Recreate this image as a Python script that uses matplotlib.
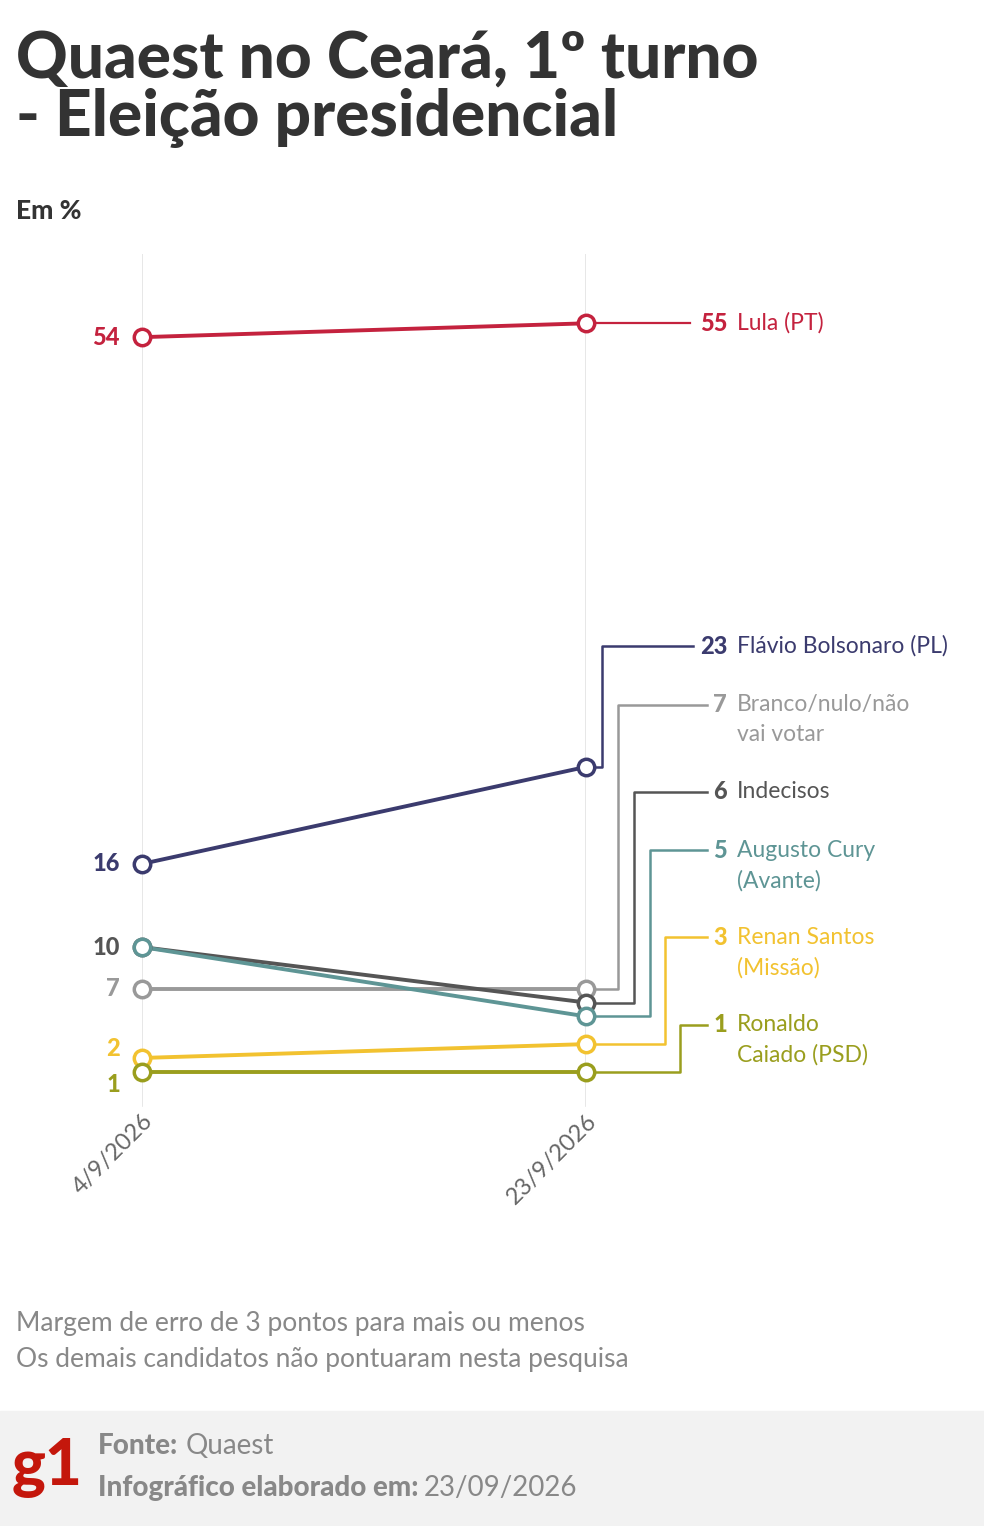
import matplotlib.pyplot as plt
import matplotlib.patches as patches

plt.rcParams['font.family'] = ['Lato', 'DejaVu Sans']

dates = ['4/9/2026', '23/9/2026']
names = ['Lula (PT)', 'Flávio Bolsonaro (PL)', 'Branco/nulo/não\nvai votar', 'Indecisos',
         'Augusto Cury\n(Avante)', 'Renan Santos\n(Missão)', 'Ronaldo\nCaiado (PSD)']
first = [54, 16, 7, 10, 10, 2, 1]
last = [55, 23, 7, 6, 5, 3, 1]
colors = ['#c4223e', '#3b3b6e', '#999999', '#555555', '#5e9595', '#f2c230', '#9a9e1e']
# label placement (value units) and elbow x (axis units)
label_y = [55, 31.7, 27.5, 21.2, 17.0, 10.7, 4.4]
elbow_x = [None, 1.036, 1.072, 1.108, 1.144, 1.178, 1.212]
end_x = [1.234, 1.24, 1.272, 1.272, 1.272, 1.272, 1.272]
left_show = [True, True, True, True, False, True, True]
left_y = [54, 16, 7, 10, None, 2.7, 0.1]

W, H = 984, 1526
fig = plt.figure(figsize=(W / 100, H / 100), dpi=100)
ax = fig.add_axes([142 / W, 1 - 1155 / H, 444 / W, (1155 - 254) / H])
ax.set_xlim(0, 1)
ax.set_ylim(-5, 60)
ax.axis('off')
for x in [0, 1]:
    ax.plot([x, x], [-1.5, 60], color='#e3e3e3', lw=1.2, zorder=0)

label_x = 1.318
for i in range(len(names)):
    c = colors[i]
    ax.plot([0, 1], [first[i], last[i]], color=c, lw=2.8, zorder=3)
    if elbow_x[i] is None:
        ax.plot([1, end_x[i]], [last[i], last[i]], color=c, lw=1.6, zorder=2, clip_on=False)
    else:
        ax.plot([1, elbow_x[i], elbow_x[i], end_x[i]], [last[i], last[i], label_y[i], label_y[i]],
                color=c, lw=1.8, zorder=2, clip_on=False)
    ax.scatter([0, 1], [first[i], last[i]], s=140, facecolor='white', edgecolor=c,
               linewidth=2.5, zorder=4, clip_on=False)
    lines = names[i].split('\n')
    ax.text(label_x, label_y[i], f'{last[i]}', color=c, fontsize=17, fontweight='black',
            ha='right', va='center')
    ax.text(label_x + 0.022, label_y[i], lines[0], color=c, fontsize=16.5, va='center')
    if len(lines) > 1:
        ax.text(label_x + 0.022, label_y[i] - 2.2, lines[1], color=c, fontsize=16.5, va='center')
    if left_show[i]:
        ax.text(-0.05, left_y[i], f'{first[i]}', color=c, fontsize=17, fontweight='black',
                ha='right', va='center')

for x, d in zip([0, 1], dates):
    ax.text(x, -1.8, d, rotation=45, ha='right', va='top', color='#666666', fontsize=17,
            rotation_mode='anchor')

fig.text(16 / W, 1 - 60 / H, 'Quaest no Ceará, 1º turno', fontsize=46, fontweight='black',
         color='#333333', va='center')
fig.text(16 / W, 1 - 118 / H, '- Eleição presidencial', fontsize=46, fontweight='black',
         color='#333333', va='center')
fig.text(16 / W, 1 - 211 / H, 'Em %', fontsize=19, fontweight='black', color='#333333', va='center')
fig.text(16 / W, 1 - 1323 / H, 'Margem de erro de 3 pontos para mais ou menos', fontsize=19,
         color='#888888', va='center')
fig.text(16 / W, 1 - 1359 / H, 'Os demais candidatos não pontuaram nesta pesquisa', fontsize=19,
         color='#888888', va='center')

fig.patches.append(patches.Rectangle((0, 0), 1, 115 / H, transform=fig.transFigure,
                                     color='#f2f2f2', zorder=0))
fig.text(12 / W, 1 - 1468 / H, 'g1', fontsize=46, fontweight='black', color='#c4170c', va='center')
fig.text(98 / W, 1 - 1446 / H, 'Fonte:', fontsize=20, fontweight='black', color='#888888', va='center')
fig.text(186 / W, 1 - 1446 / H, 'Quaest', fontsize=20, color='#888888', va='center')
fig.text(98 / W, 1 - 1488 / H, 'Infográfico elaborado em:', fontsize=20, fontweight='black',
         color='#888888', va='center')
fig.text(424 / W, 1 - 1488 / H, '23/09/2026', fontsize=20, color='#888888', va='center')

fig.savefig('out.png', dpi=100)
